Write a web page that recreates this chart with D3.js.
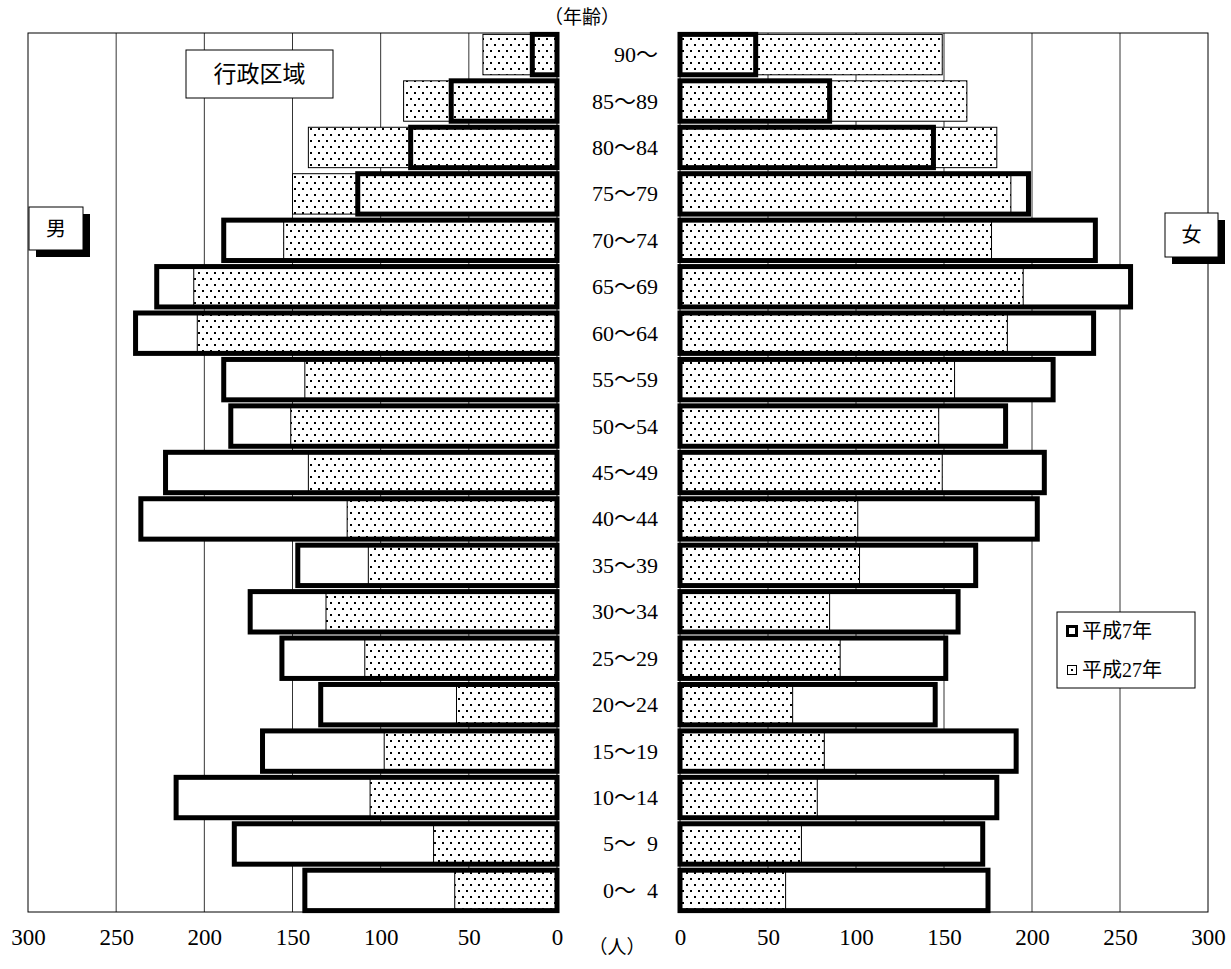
<!DOCTYPE html>
<html lang="ja">
<head>
<meta charset="UTF-8">
<title>人口ピラミッド</title>
<script src="https://d3js.org/d3.v7.min.js"></script>
<style>
  body { margin: 0; background: #fff; }
  text { font-family: "Liberation Serif", "Noto Sans CJK JP", serif; fill: #000; }
</style>
</head>
<body>
<svg width="1231" height="969"></svg>
<script>
const ages = ["90～", "85～89", "80～84", "75～79", "70～74", "65～69", "60～64", "55～59", "50～54",
  "45～49", "40～44", "35～39", "30～34", "25～29", "20～24", "15～19", "10～14", "5～\u20029", "0～\u20024"];
const maleH7  = [14, 60, 83, 113, 189, 227, 239, 189, 185, 222, 236, 147, 174, 156, 134, 167, 216, 183, 143];
const maleH27 = [42, 87, 141, 150, 155, 206, 204, 143, 151, 141, 119, 107, 131, 109, 57, 98, 106, 70, 58];
const femH7   = [43, 85, 144, 198, 236, 256, 235, 212, 185, 207, 203, 168, 158, 151, 145, 191, 180, 172, 175];
const femH27  = [149, 163, 180, 188, 177, 195, 186, 156, 147, 149, 101, 102, 85, 91, 64, 82, 78, 69, 60];
const ticks = [0, 50, 100, 150, 200, 250, 300];

const svg = d3.select("svg");
const plotTop = 33, plotBottom = 912;

// 模様
const pat = svg.append("defs").append("pattern")
  .attr("id", "dots").attr("patternUnits", "userSpaceOnUse")
  .attr("width", 8).attr("height", 12);
pat.append("rect").attr("width", 8).attr("height", 12).attr("fill", "#fff");
pat.append("rect").attr("x", 2).attr("y", 2).attr("width", 2).attr("height", 2).attr("fill", "#000");
pat.append("rect").attr("x", 6).attr("y", 8).attr("width", 2).attr("height", 2).attr("fill", "#000");

const y = d3.scaleBand().domain(ages).range([plotTop, plotBottom]).paddingInner(0.13).paddingOuter(0.03);
const xL = d3.scaleLinear().domain([0, 300]).range([557, 28]);
const xR = d3.scaleLinear().domain([0, 300]).range([680, 1208]);

function panel(x, h7, h27) {
  const g = svg.append("g");
  g.append("rect").attr("x", Math.min(x(0), x(300))).attr("y", plotTop)
    .attr("width", Math.abs(x(300) - x(0))).attr("height", plotBottom - plotTop)
    .attr("fill", "#fff").attr("stroke", "#000").attr("stroke-width", 1);
  g.selectAll(".grid").data(ticks.slice(1, -1)).join("line")
    .attr("x1", d => x(d)).attr("x2", d => x(d)).attr("y1", plotTop).attr("y2", plotBottom)
    .attr("stroke", "#000").attr("stroke-width", 0.8);
  const bx = v => Math.min(x(0), x(v));
  const bw = v => Math.abs(x(v) - x(0));
  g.selectAll(".bg").data(h7).join("rect")
    .attr("x", d => bx(d)).attr("y", (d, i) => y(ages[i]))
    .attr("width", d => bw(d)).attr("height", y.bandwidth()).attr("fill", "#fff");
  g.selectAll(".h27").data(h27).join("rect")
    .attr("x", d => bx(d)).attr("y", (d, i) => y(ages[i]))
    .attr("width", d => bw(d)).attr("height", y.bandwidth())
    .attr("fill", "url(#dots)").attr("stroke", "#000").attr("stroke-width", 1);
  g.selectAll(".h7").data(h7).join("rect")
    .attr("x", d => bx(d)).attr("y", (d, i) => y(ages[i]))
    .attr("width", d => bw(d)).attr("height", y.bandwidth())
    .attr("fill", "none").attr("stroke", "#000").attr("stroke-width", 5);
  const ax = svg.append("g").attr("transform", `translate(0,${plotBottom})`)
    .call(d3.axisBottom(x).tickValues(ticks).tickSize(0).tickPadding(0));
  ax.attr("font-size", 23).attr("font-family", null);
  ax.select(".domain").remove();
  ax.selectAll("text").attr("dy", null).attr("y", 25).attr("dominant-baseline", "central");
}
panel(xL, maleH7, maleH27);
panel(xR, femH7, femH27);

// 年齢ラベル
svg.selectAll(".age").data(ages).join("text")
  .attr("x", 658).attr("y", d => y(d) + y.bandwidth() / 2)
  .attr("text-anchor", "end").attr("dominant-baseline", "central")
  .style("font-size", "22px").text(d => d);
svg.append("text").attr("x", 582).attr("y", 17).attr("text-anchor", "middle")
  .attr("dominant-baseline", "central").style("font-size", "19px").text("（年齢）");
svg.append("text").attr("x", 617).attr("y", 947).attr("text-anchor", "middle")
  .attr("dominant-baseline", "central").style("font-size", "19px").text("（人）");

function box(x, yy, w, h, label, shadow, size) {
  if (shadow) svg.append("rect").attr("x", x + 7).attr("y", yy + 7).attr("width", w).attr("height", h).attr("fill", "#000");
  svg.append("rect").attr("x", x).attr("y", yy).attr("width", w).attr("height", h)
    .attr("fill", "#fff").attr("stroke", "#000").attr("stroke-width", 1);
  svg.append("text").attr("x", x + w / 2).attr("y", yy + h / 2).attr("text-anchor", "middle")
    .attr("dominant-baseline", "central").style("font-size", size + "px").text(label);
}
box(186, 50, 147, 48, "行政区域", false, 23);
box(29, 207, 54, 43, "男", true, 20);
box(1165, 213, 53, 44, "女", true, 20);

// 凡例
const lg = svg.append("g");
lg.append("rect").attr("x", 1057).attr("y", 612).attr("width", 138).attr("height", 76)
  .attr("fill", "#fff").attr("stroke", "#000");
lg.append("rect").attr("x", 1067.5).attr("y", 626.5).attr("width", 9).attr("height", 9)
  .attr("fill", "#fff").attr("stroke", "#000").attr("stroke-width", 3);
lg.append("rect").attr("x", 1067.5).attr("y", 665.5).attr("width", 9).attr("height", 9)
  .attr("fill", "#fff").attr("stroke", "#000").attr("stroke-width", 1);
lg.append("rect").attr("x", 1071).attr("y", 669).attr("width", 2).attr("height", 2).attr("fill", "#000");
lg.append("text").attr("x", 1082).attr("y", 631).attr("dominant-baseline", "central")
  .style("font-size", "20px").text("平成7年");
lg.append("text").attr("x", 1082).attr("y", 670).attr("dominant-baseline", "central")
  .style("font-size", "20px").text("平成27年");
</script>
</body>
</html>
